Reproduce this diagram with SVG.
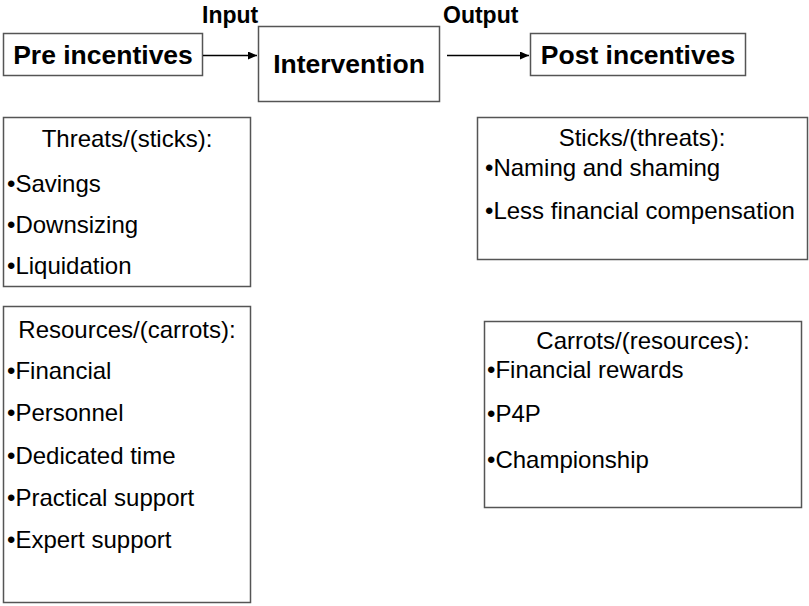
<svg xmlns="http://www.w3.org/2000/svg" width="809" height="606" viewBox="0 0 809 606">
  <defs>
    <marker id="arrow" markerWidth="10" markerHeight="8" refX="9" refY="4" orient="auto" markerUnits="userSpaceOnUse">
      <path d="M0,0 L9,4 L0,8 Z" fill="#000"/>
    </marker>
    <style>
      .box { fill: #fff; stroke: #555; stroke-width: 1.5; }
      .title { font-family: "Liberation Sans", Arial, sans-serif; font-weight: bold; font-size: 26.5px; fill: #000; }
      .label { font-family: "Liberation Sans", Arial, sans-serif; font-weight: bold; font-size: 23px; fill: #000; }
      .body { font-family: "Liberation Sans", Arial, sans-serif; font-size: 24px; fill: #000; }
      .mid { text-anchor: middle; }
      .link { stroke: #000; stroke-width: 1.3; fill: none; marker-end: url(#arrow); }
    </style>
  </defs>
  <rect width="809" height="606" fill="#fff"/>

  <g id="pre-incentives">
    <rect class="box" x="3.5" y="33.5" width="199" height="42"/>
    <text class="title mid" x="103" y="64">Pre incentives</text>
  </g>

  <g id="intervention">
    <rect class="box" x="258.5" y="26.5" width="181" height="75"/>
    <text class="title mid" x="349" y="73">Intervention</text>
  </g>

  <g id="post-incentives">
    <rect class="box" x="530.5" y="33.5" width="215" height="42"/>
    <text class="title mid" x="638" y="64">Post incentives</text>
  </g>

  <g id="connectors">
    <line class="link" x1="203" y1="55.5" x2="257" y2="55.5"/>
    <line class="link" x1="447" y1="55.5" x2="529" y2="55.5"/>
    <text class="label" x="202" y="23">Input</text>
    <text class="label" x="443" y="23">Output</text>
  </g>

  <g id="threats">
    <rect class="box" x="3.5" y="117.5" width="247" height="169"/>
    <text class="body mid" x="127" y="147">Threats/(sticks):</text>
    <text class="body" x="7" y="192">•Savings</text>
    <text class="body" x="7" y="233">•Downsizing</text>
    <text class="body" x="7" y="274">•Liquidation</text>
  </g>

  <g id="resources">
    <rect class="box" x="3.5" y="306.5" width="247" height="296"/>
    <text class="body mid" x="127" y="338">Resources/(carrots):</text>
    <text class="body" x="7" y="379">•Financial</text>
    <text class="body" x="7" y="421">•Personnel</text>
    <text class="body" x="7" y="464">•Dedicated time</text>
    <text class="body" x="7" y="506">•Practical support</text>
    <text class="body" x="7" y="548">•Expert support</text>
  </g>

  <g id="sticks">
    <rect class="box" x="477.5" y="117.5" width="330" height="142"/>
    <text class="body mid" x="642" y="146">Sticks/(threats):</text>
    <text class="body" x="485" y="176">•Naming and shaming</text>
    <text class="body" x="485" y="219">•Less financial compensation</text>
  </g>

  <g id="carrots">
    <rect class="box" x="484.5" y="321.5" width="317" height="186"/>
    <text class="body mid" x="643" y="349">Carrots/(resources):</text>
    <text class="body" x="487" y="378">•Financial rewards</text>
    <text class="body" x="487" y="422">•P4P</text>
    <text class="body" x="487" y="468">•Championship</text>
  </g>
</svg>
